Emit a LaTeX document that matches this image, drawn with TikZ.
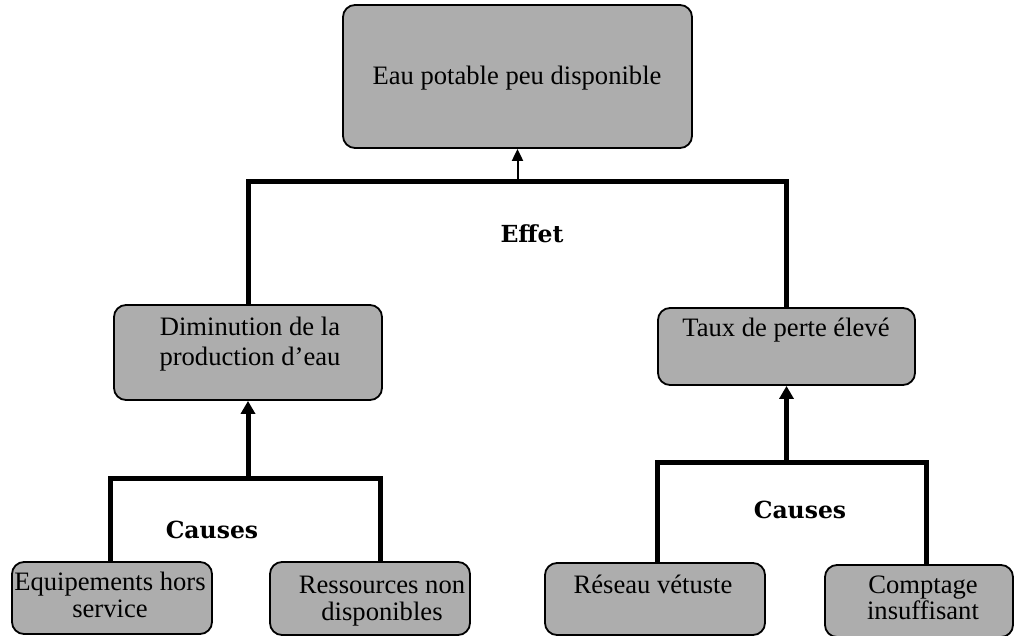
\documentclass[tikz,border=0pt]{standalone}
\usepackage{fontspec}
\setmainfont{Liberation Serif}
\newfontfamily\lblfont{DejaVu Serif}
\usetikzlibrary{arrows.meta}
\begin{document}
\begin{tikzpicture}[x=1pt,y=-1pt,
  box/.style={draw=black, line width=1.8pt, fill=black!32, rounded corners=12pt, inner sep=0pt},
  txt/.style={font=\fontsize{26.6}{28}\selectfont, inner sep=0pt, align=center},
  lbl/.style={font=\lblfont\bfseries\fontsize{23.5}{26}\selectfont, inner sep=0pt},
  bar/.style={line width=5pt, line join=miter},
  thinarrow/.style={line width=2pt, -{Triangle[length=12pt,width=11pt]}},
  thickarrow/.style={line width=5pt, -{Triangle[length=13pt,width=14pt]}}]
\useasboundingbox (0,0) rectangle (1015,636);

% boxes
\node[box, minimum width=349pt, minimum height=143pt] (top) at (517.5,76.5) {};
\node[box, minimum width=268pt, minimum height=95pt] (dim) at (248,352.5) {};
\node[box, minimum width=257pt, minimum height=77pt] (taux) at (786.5,346.5) {};
\node[box, minimum width=200pt, minimum height=72pt] (equip) at (112,598) {};
\node[box, minimum width=200pt, minimum height=73pt] (res) at (370,598.5) {};
\node[box, minimum width=220pt, minimum height=72pt] (reseau) at (655,599) {};
\node[box, minimum width=188pt, minimum height=72pt] (compt) at (919,601) {};

% connectors
\coordinate (eb) at (517,182);
\draw[bar] (dim.north) -- (dim.north |- eb) -- (taux.north |- eb) -- (taux.north);
\draw[thinarrow] (top.south |- eb) -- (top.south);

\coordinate (lb1) at (110,478);
\coordinate (lb2) at (380,478);
\draw[bar] (equip.north -| lb1) -- (lb1) -- (lb2) -- (res.north -| lb2);
\draw[thickarrow] (dim.south |- lb1) -- (dim.south);

\coordinate (rb1) at (657,462);
\coordinate (rb2) at (926,462);
\draw[bar] (reseau.north -| rb1) -- (rb1) -- (rb2) -- (compt.north -| rb2);
\draw[thickarrow] (taux.south |- rb1) -- (taux.south);

% texts (base anchor = baseline of the last line)
\node[txt, anchor=base] (topt) at (517,85) {Eau potable peu disponible};
\node[txt, anchor=base, font=\fontsize{26.6}{30.5}\selectfont] (dimt) at (250,366) {Diminution de la\\production d'eau};
\node[txt, anchor=base] (tauxt) at (786,337) {Taux de perte élevé};
\node[txt, anchor=base, font=\fontsize{26.6}{27}\selectfont] (equipt) at (110,617) {Equipements hors\\service};
\node[txt, anchor=base, font=\fontsize{26.6}{27}\selectfont] (rest) at (382,620) {Ressources non\\disponibles};
\node[txt, anchor=base] (reseaut) at (653,593) {Réseau vétuste};
\node[txt, anchor=base, font=\fontsize{26.6}{26}\selectfont] (comptt) at (923,619) {Comptage\\insuffisant};

\node[lbl] (effet) at (532,234) {Effet};
\node[lbl] (causes1) at (212,530) {Causes};
\node[lbl] (causes2) at (800,510) {Causes};
\end{tikzpicture}
\end{document}
